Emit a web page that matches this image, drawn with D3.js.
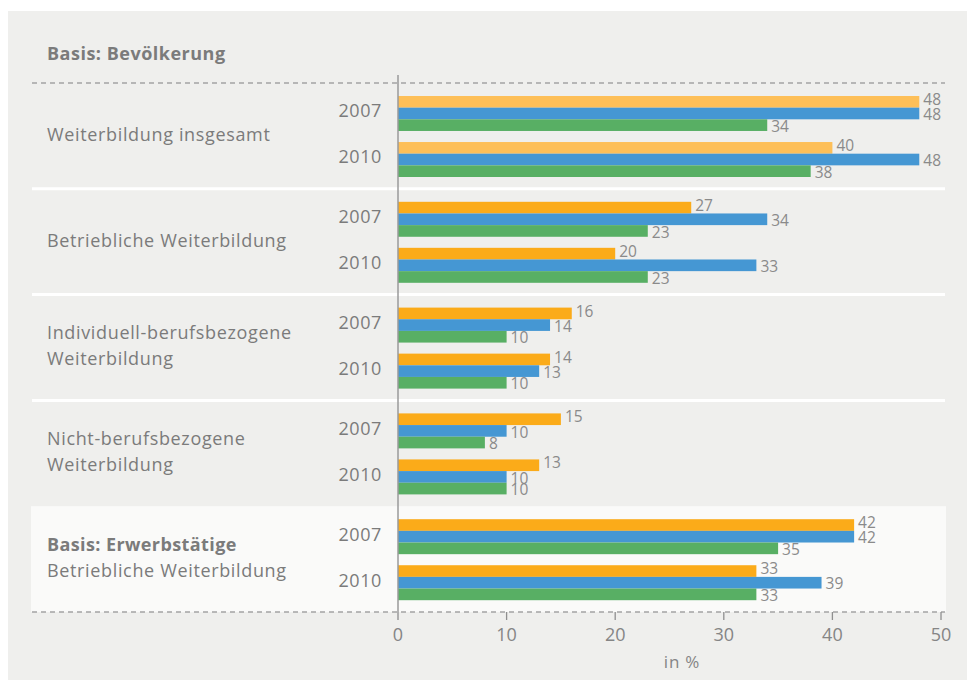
<!DOCTYPE html>
<html>
<head>
<meta charset="utf-8">
<script src="https://cdn.jsdelivr.net/npm/d3@7"></script>
<style>
  body { margin: 0; background: #fff; }
  text { font-family: "Open Sans", sans-serif; }
</style>
</head>
<body>
<div id="container"></div>
<script>
let w = 967;
let h = 680;

// data
const categories = [
  ["Weiterbildung insgesamt"],
  ["Betriebliche Weiterbildung"],
  ["Individuell-berufsbezogene", "Weiterbildung"],
  ["Nicht-berufsbezogene", "Weiterbildung"],
  ["Basis: Erwerbstätige", "Betriebliche Weiterbildung"]
];
const years = ["2007", "2010"];
const seriesNames = ["orange", "blau", "grün"];
const orangeValues = [[48, 40], [27, 20], [16, 14], [15, 13], [42, 33]];
const blueValues   = [[48, 48], [34, 33], [14, 13], [10, 10], [42, 39]];
const greenValues  = [[34, 38], [23, 23], [10, 10], [8, 10], [35, 33]];
const tickValues = [0, 10, 20, 30, 40, 50];

const colors = {orange: "#fbab19", blau: "#4597d3", "grün": "#58af64"};
const lightOrange = "#fdbf58";
const textGrey = "#7b7b7b";

let viz = d3.select("#container").append("svg")
    .attr("width", w)
    .attr("height", h);

viz.append("rect")
  .attr("x", 8).attr("y", 11)
  .attr("width", w - 8).attr("height", h - 11)
  .attr("fill", "#efefed");

let x = d3.scaleLinear().domain([0, 50]).range([398, 941]);
let yGroup = d3.scaleBand().domain(d3.range(categories.length)).range([83, 612]);
let yYear = d3.scaleBand().domain(years).range([13, 94]).paddingInner(0.24);
let ySeries = d3.scaleBand().domain(seriesNames).range([0, yYear.bandwidth()]);

// white box for Erwerbstätige
viz.append("rect")
  .attr("x", 31).attr("y", yGroup(4))
  .attr("width", 915).attr("height", yGroup.bandwidth())
  .attr("fill", "#fafaf9");

// white separators
viz.selectAll(".sep").data([1, 2, 3]).enter()
  .append("line")
    .attr("class", "sep")
    .attr("x1", 32).attr("x2", 945)
    .attr("y1", d => yGroup(d)).attr("y2", d => yGroup(d))
    .attr("stroke", "#ffffff")
    .attr("stroke-width", 3);

// dashed lines
viz.selectAll(".dash").data([83, 612]).enter()
  .append("line")
    .attr("class", "dash")
    .attr("x1", 32).attr("x2", 945)
    .attr("y1", d => d).attr("y2", d => d)
    .attr("stroke", "#a4a4a4")
    .attr("stroke-width", 1.3)
    .attr("stroke-dasharray", "5,4");

viz.append("text")
  .attr("x", 47).attr("y", 55)
  .attr("dominant-baseline", "middle")
  .attr("font-size", 18).attr("font-weight", "bold")
  .attr("letter-spacing", 0.5)
  .attr("fill", textGrey)
  .text("Basis: Bevölkerung");

// rows
let rows = [];
categories.forEach(function(cat, i){
  years.forEach(function(yr, j){
    rows.push({g: i, year: yr, s: "orange", v: orangeValues[i][j]});
    rows.push({g: i, year: yr, s: "blau", v: blueValues[i][j]});
    rows.push({g: i, year: yr, s: "grün", v: greenValues[i][j]});
  });
});

function barY(d){ return yGroup(d.g) + yYear(d.year) + ySeries(d.s); }

viz.selectAll(".bar").data(rows).enter()
  .append("rect")
    .attr("class", "bar")
    .attr("x", x(0))
    .attr("y", d => barY(d))
    .attr("width", d => x(d.v) - x(0))
    .attr("height", ySeries.bandwidth())
    .attr("fill", function(d){
      if (d.s == "orange" && d.g == 0){
        return lightOrange;
      }
      return colors[d.s];
    });

viz.selectAll(".val").data(rows).enter()
  .append("text")
    .attr("class", "val")
    .attr("x", d => x(d.v) + 4)
    .attr("y", d => barY(d) + ySeries.bandwidth() / 2 + (d.s == "orange" ? -1 : 2.5))
    .attr("dominant-baseline", "middle")
    .attr("font-size", 15.5)
    .attr("fill", "#8a8a8a")
    .text(d => d.v);

// year labels + category labels
categories.forEach(function(cat, i){
  years.forEach(function(yr){
    viz.append("text")
      .attr("x", 382)
      .attr("y", yGroup(i) + yYear(yr) + yYear.bandwidth() / 2 - 1)
      .attr("text-anchor", "end")
      .attr("dominant-baseline", "middle")
      .attr("font-size", 18)
      .attr("letter-spacing", 0.6)
      .attr("fill", textGrey)
      .text(yr);
  });
  let mid = yGroup(i) + yGroup.bandwidth() / 2;
  cat.forEach(function(line, k){
    viz.append("text")
      .attr("x", 47)
      .attr("y", mid + (k - (cat.length - 1) / 2) * 26)
      .attr("dominant-baseline", "middle")
      .attr("font-size", 18)
      .attr("font-weight", (i == 4 && k == 0) ? "bold" : "normal")
      .attr("letter-spacing", (i == 4 && k == 0) ? 0.4 : 0.65)
      .attr("fill", textGrey)
      .text(line);
  });
});

// axis
viz.append("line")
  .attr("x1", x(0)).attr("x2", x(0))
  .attr("y1", 75).attr("y2", 620)
  .attr("stroke", "#9a9a9a").attr("stroke-width", 1.5);

viz.selectAll(".tick").data(tickValues.slice(1)).enter()
  .append("line")
    .attr("class", "tick")
    .attr("x1", d => x(d)).attr("x2", d => x(d))
    .attr("y1", 612).attr("y2", 620)
    .attr("stroke", "#8f8f8f").attr("stroke-width", 1.3);

viz.selectAll(".ticklabel").data(tickValues).enter()
  .append("text")
    .attr("class", "ticklabel")
    .attr("x", d => x(d))
    .attr("y", 636)
    .attr("text-anchor", "middle")
    .attr("dominant-baseline", "middle")
    .attr("font-size", 18)
    .attr("fill", "#858585")
    .text(d => d);

viz.append("text")
  .attr("x", 682).attr("y", 663)
  .attr("text-anchor", "middle")
  .attr("dominant-baseline", "middle")
  .attr("font-size", 17)
  .attr("letter-spacing", 0.8)
  .attr("fill", "#858585")
  .text("in %");
</script>
</body>
</html>
